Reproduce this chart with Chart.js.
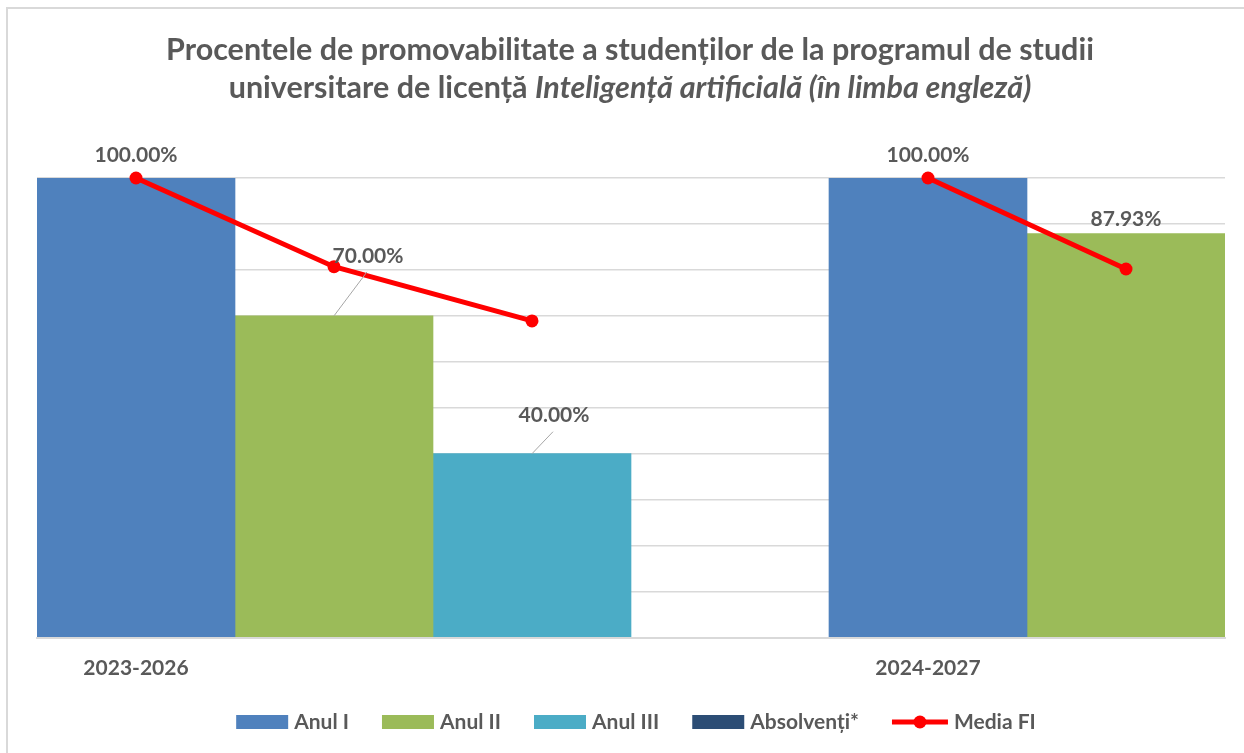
<!DOCTYPE html>
<html>
<head>
<meta charset="utf-8">
<script src="https://cdn.jsdelivr.net/npm/chart.js@4.4.1/dist/chart.umd.min.js"></script>
<style>
  body { margin: 0; background: #fff; }
  canvas { display: block; }
</style>
</head>
<body>
<canvas id="grafic" width="1244" height="753"></canvas>
<script>
// DATE (fiecare coloana = un loc pe axa x)
const perioade = ['2023-2026', '', '', '', '2024-2027', ''];
const anulI = [100, null, null, null, 100, null];
const anulII = [null, 70, null, null, null, 87.93];
const anulIII = [null, null, 40, null, null, null];
const absolventi = [null, null, null, null, null, null];
const mediaFI = [100, 80.7, 68.9, null, 100, 80.2];

const titluRand1 = 'Procentele de promovabilitate a studenților de la programul de studii';
const titluRand2a = 'universitare de licență ';
const titluRand2b = 'Inteligență artificială (în limba engleză)';

const TEXT = '#595959';
const ROSU = '#FF0000';
const FONT = 'Lato';

// deplasarea etichetelor fata de varful barei [dx, dy, linie de legatura]
const deplasari = {
    '0-0': [0, -23, false],
    '0-4': [0, -23, false],
    '1-1': [34, -60, true],
    '2-2': [22, -38, true],
    '1-5': [0, -14, false]
};

// TITLU + CHENAR
const titlu = {
    id: 'titlu',
    afterDraw(chart) {
        const ctx = chart.ctx;
        ctx.save();
        ctx.fillStyle = TEXT;
        ctx.textBaseline = 'alphabetic';
        const f1 = 'bold 30.5px ' + FONT;
        const f2 = 'italic bold 30.5px ' + FONT;
        ctx.font = f1;
        ctx.textAlign = 'center';
        ctx.fillText(titluRand1, 630, 60);
        ctx.textAlign = 'left';
        const w1 = ctx.measureText(titluRand2a).width;
        ctx.font = f2;
        const w2 = ctx.measureText(titluRand2b).width;
        const x = 630 - (w1 + w2) / 2;
        ctx.font = f1;
        ctx.fillText(titluRand2a, x, 98);
        ctx.font = f2;
        ctx.fillText(titluRand2b, x + w1, 98);

        ctx.strokeStyle = '#D9D9D9';
        ctx.lineWidth = 2;
        ctx.strokeRect(7, 8, 1260, 770);
        ctx.restore();
    }
};

// ETICHETE DE DATE
const etichete = {
    id: 'etichete',
    afterDatasetsDraw(chart) {
        const ctx = chart.ctx;
        ctx.save();
        ctx.font = 'bold 21px ' + FONT;
        ctx.fillStyle = TEXT;
        ctx.textAlign = 'center';
        ctx.textBaseline = 'middle';
        chart.data.datasets.forEach((ds, i) => {
            if (ds.type === 'line') return;
            const meta = chart.getDatasetMeta(i);
            ds.data.forEach((v, j) => {
                if (v == null) return;
                const bar = meta.data[j];
                const [dx, dy, leader] = deplasari[i + '-' + j] || [0, -14, false];
                const lx = bar.x + dx, ly = bar.y + dy;
                if (leader) {
                    ctx.strokeStyle = '#A6A6A6';
                    ctx.lineWidth = 1;
                    ctx.beginPath();
                    ctx.moveTo(bar.x, bar.y);
                    ctx.lineTo(lx - 1, ly + 16);
                    ctx.stroke();
                }
                ctx.fillText(v.toFixed(2) + '%', lx, ly);
            });
        });
        ctx.restore();
    }
};

// LEGENDA
const legenda = {
    id: 'legenda',
    afterDraw(chart) {
        const ctx = chart.ctx;
        ctx.save();
        ctx.font = 'bold 21px ' + FONT;
        ctx.textBaseline = 'middle';
        ctx.textAlign = 'left';
        const yc = 722;
        const items = chart.data.datasets.map(ds => {
            const w = ctx.measureText(ds.label).width;
            const sw = ds.type === 'line' ? 56 : 52;
            return { ds, w, sw, total: sw + 6 + w };
        });
        const spatiu = 33;
        const latime = items.reduce((s, it) => s + it.total, 0) + spatiu * (items.length - 1);
        let x = 636 - latime / 2;
        items.forEach(it => {
            if (it.ds.type === 'line') {
                ctx.strokeStyle = it.ds.borderColor;
                ctx.lineWidth = 5;
                ctx.beginPath();
                ctx.moveTo(x, yc);
                ctx.lineTo(x + it.sw, yc);
                ctx.stroke();
                ctx.fillStyle = it.ds.borderColor;
                ctx.beginPath();
                ctx.arc(x + it.sw / 2, yc, 6.5, 0, Math.PI * 2);
                ctx.fill();
            } else {
                ctx.fillStyle = it.ds.backgroundColor;
                ctx.fillRect(x, yc - 7, it.sw, 14);
            }
            ctx.fillStyle = TEXT;
            ctx.fillText(it.ds.label, x + it.sw + 6, yc);
            x += it.total + spatiu;
        });
        ctx.restore();
    }
};

Chart.defaults.font.family = FONT;

new Chart(document.getElementById('grafic'), {
    type: 'bar',
    data: {
        labels: perioade,
        datasets: [
            { label: 'Anul I', data: anulI, backgroundColor: '#4F81BD', order: 1 },
            { label: 'Anul II', data: anulII, backgroundColor: '#9BBB59', order: 1 },
            { label: 'Anul III', data: anulIII, backgroundColor: '#4BACC6', order: 1 },
            { label: 'Absolvenți*', data: absolventi, backgroundColor: '#2C4D75', order: 1 },
            {
                type: 'line', label: 'Media FI', data: mediaFI,
                borderColor: ROSU, backgroundColor: ROSU, borderWidth: 5,
                pointRadius: 6.5, pointHoverRadius: 6.5, pointBackgroundColor: ROSU,
                pointBorderWidth: 0, spanGaps: false, clip: false, order: 0
            }
        ]
    },
    options: {
        responsive: false,
        animation: false,
        devicePixelRatio: 1,
        layout: { padding: { left: 37, right: 19, top: 178, bottom: 65.5 } },
        datasets: { bar: { barPercentage: 1, categoryPercentage: 1, grouped: false } },
        plugins: {
            legend: { display: false },
            title: { display: false },
            tooltip: { enabled: false }
        },
        scales: {
            x: {
                grid: { display: false, drawTicks: false },
                border: { color: '#D9D9D9', width: 2 },
                ticks: { color: TEXT, font: { size: 21, weight: 'bold' }, padding: 18, maxRotation: 0, autoSkip: false },
                afterFit(s) { s.height = 50; }
            },
            y: {
                min: 0, max: 100,
                ticks: { display: false, stepSize: 10 },
                grid: { color: '#D9D9D9', lineWidth: 1.5, drawTicks: false },
                border: { display: false },
                afterFit(s) { s.width = 0; }
            }
        }
    },
    plugins: [titlu, etichete, legenda]
});
</script>
</body>
</html>
